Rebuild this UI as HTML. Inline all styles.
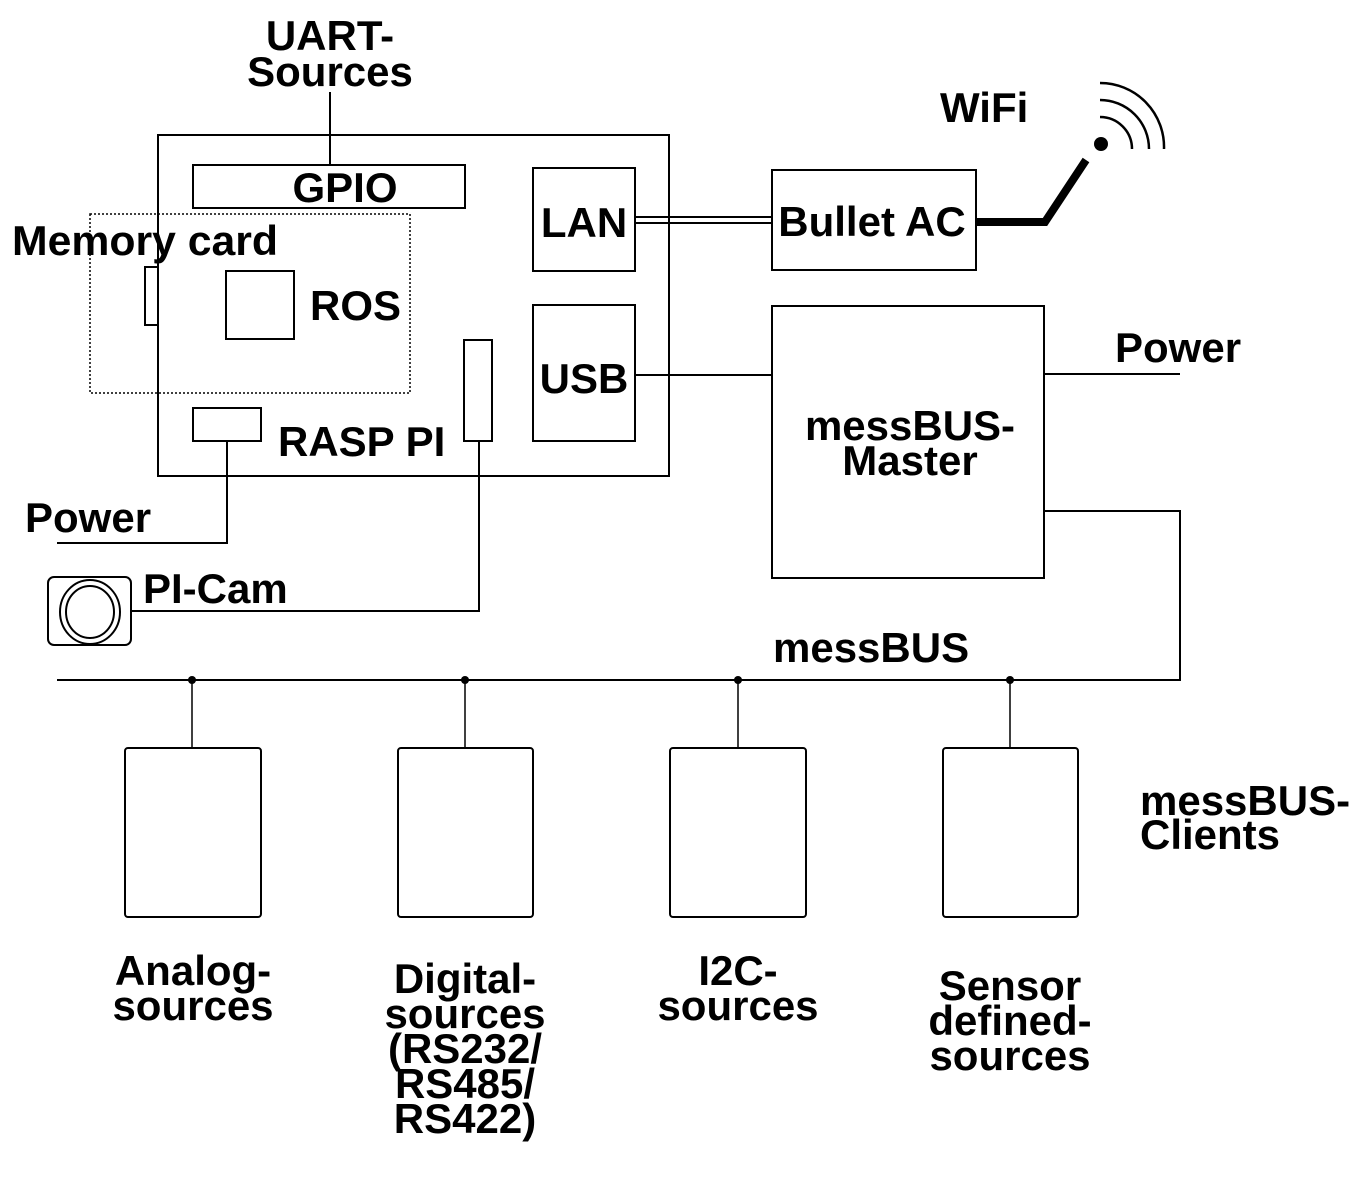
<!DOCTYPE html>
<html><head><meta charset="utf-8"><style>
html,body{margin:0;padding:0;background:#fff;}
svg{display:block;}
text{font-family:"Liberation Sans",Arial,sans-serif;font-weight:bold;font-size:42px;fill:#000;}
</style></head><body>
<svg width="1368" height="1180" viewBox="0 0 1368 1180" xmlns="http://www.w3.org/2000/svg">
<g fill="none" stroke="#000" stroke-width="2">
<rect x="158" y="135" width="511" height="341"/>
<line x1="330" y1="92" x2="330" y2="165"/>
<rect x="193" y="165" width="272" height="43"/>
<rect x="90" y="214" width="320" height="179" stroke-width="1.5" stroke-dasharray="2,2"/>
<rect x="145" y="267" width="13" height="58"/>
<rect x="226" y="271" width="68" height="68"/>
<rect x="193" y="408" width="68" height="33"/>
<polyline points="227,441 227,543 57,543"/>
<rect x="464" y="340" width="28" height="101"/>
<polyline points="479,441 479,611 132,611"/>
<rect x="533" y="168" width="102" height="103"/>
<rect x="533" y="305" width="102" height="136"/>
<line x1="635" y1="217" x2="772" y2="217"/>
<line x1="635" y1="223" x2="772" y2="223"/>
<rect x="772" y="170" width="204" height="100"/>
<line x1="635" y1="375" x2="772" y2="375"/>
<rect x="772" y="306" width="272" height="272"/>
<line x1="1044" y1="374" x2="1180" y2="374"/>
<polyline points="1044,511 1180,511 1180,680 57,680"/>
<line x1="192" y1="680" x2="192" y2="748" stroke-width="1.5"/>
<line x1="465" y1="680" x2="465" y2="748" stroke-width="1.5"/>
<line x1="738" y1="680" x2="738" y2="748" stroke-width="1.5"/>
<line x1="1010" y1="680" x2="1010" y2="748" stroke-width="1.5"/>
<rect x="125" y="748" width="136" height="169" rx="3"/>
<rect x="398" y="748" width="135" height="169" rx="3"/>
<rect x="670" y="748" width="136" height="169" rx="3"/>
<rect x="943" y="748" width="135" height="169" rx="3"/>
<rect x="48" y="577" width="83" height="68" rx="6"/>
<ellipse cx="90" cy="612" rx="30" ry="32"/>
<ellipse cx="90" cy="612" rx="24" ry="26"/>
<polyline points="976,222 1045,222 1086,160" stroke-width="8"/>
<path d="M1100,117 A32,32 0 0 1 1132,149" stroke-width="2.5"/>
<path d="M1100,100 A49,49 0 0 1 1149,149" stroke-width="2.5"/>
<path d="M1100,83 A64,64 0 0 1 1164,149" stroke-width="2.5"/>
</g>
<circle cx="1101" cy="144" r="7"/>
<circle cx="192" cy="680" r="4"/>
<circle cx="465" cy="680" r="4"/>
<circle cx="738" cy="680" r="4"/>
<circle cx="1010" cy="680" r="4"/>
<text x="330" y="50" text-anchor="middle">UART-</text>
<text x="330" y="86" text-anchor="middle">Sources</text>
<text x="345" y="202" text-anchor="middle">GPIO</text>
<text x="12" y="255" textLength="266" lengthAdjust="spacingAndGlyphs">Memory card</text>
<text x="310" y="320">ROS</text>
<text x="278" y="456">RASP PI</text>
<text x="584" y="237" text-anchor="middle">LAN</text>
<text x="584" y="393" text-anchor="middle">USB</text>
<text x="872" y="236" text-anchor="middle">Bullet AC</text>
<text x="940" y="122">WiFi</text>
<text x="910" y="440" text-anchor="middle">messBUS-</text>
<text x="910" y="475" text-anchor="middle">Master</text>
<text x="1115" y="362">Power</text>
<text x="25" y="532">Power</text>
<text x="143" y="603">PI-Cam</text>
<text x="773" y="662">messBUS</text>
<text x="1140" y="815">messBUS-</text>
<text x="1140" y="849">Clients</text>
<text x="193" y="985" text-anchor="middle">Analog-</text>
<text x="193" y="1020" text-anchor="middle">sources</text>
<text x="465" y="993" text-anchor="middle">Digital-</text>
<text x="465" y="1028" text-anchor="middle">sources</text>
<text x="465" y="1063" text-anchor="middle">(RS232/</text>
<text x="465" y="1098" text-anchor="middle">RS485/</text>
<text x="465" y="1133" text-anchor="middle">RS422)</text>
<text x="738" y="985" text-anchor="middle">I2C-</text>
<text x="738" y="1020" text-anchor="middle">sources</text>
<text x="1010" y="1000" text-anchor="middle">Sensor</text>
<text x="1010" y="1035" text-anchor="middle">defined-</text>
<text x="1010" y="1070" text-anchor="middle">sources</text>
</svg>
</body></html>
